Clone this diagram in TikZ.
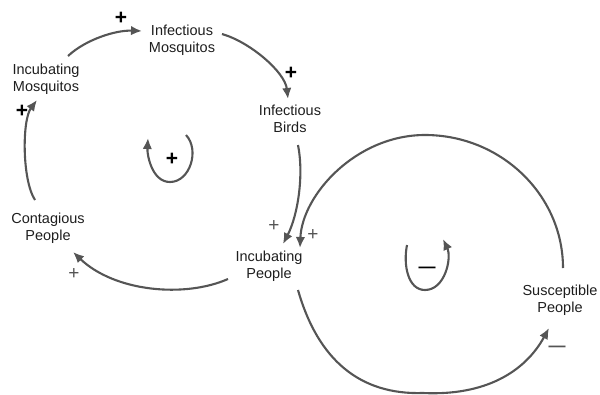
\documentclass[tikz,border=0pt]{standalone}
\usepackage{fontspec}
\setmainfont{Liberation Sans}
\usetikzlibrary{arrows.meta,calc}
\definecolor{arrowgray}{HTML}{555555}
\definecolor{txt}{HTML}{1E1E1E}
\definecolor{signgray}{HTML}{555555}
\begin{document}
\begin{tikzpicture}[x=1pt,y=-1pt,
  var/.style={align=center, font=\fontsize{14.5}{17}\selectfont, text=txt, inner sep=0pt},
  conn/.style={draw=arrowgray, line width=2.1pt, -{Latex[length=11pt,width=9.5pt]}},
  loopmark/.style={draw=arrowgray, line width=2.1pt, -{Latex[length=11pt,width=9.5pt]}},
  pol/.style={font=\fontsize{21}{21}\selectfont\bfseries, text=black, inner sep=0pt},
  polg/.style={font=\fontsize{19}{19}\selectfont, text=signgray, inner sep=0pt},
  neg/.style={font=\fontsize{17}{17}\selectfont\bfseries, inner sep=0pt}]
\useasboundingbox (0,0) rectangle (600,394);

% variables
\node[var] (imq)  at (182,40)  {Infectious\\Mosquitos};
\node[var] (incm) at (46,79)   {Incubating\\Mosquitos};
\node[var] (ib)   at (290,119) {Infectious\\Birds};
\node[var] (cp)   at (48,228)  {Contagious\\People};
\node[var] (ip)   at (269,266) {Incubating\\People};
\node[var] (sp)   at (560,300) {Susceptible\\People};

\coordinate (top4) at (425,135);
\coordinate (bot5) at (423,393);

% connectors
\draw[conn] ($(incm)+(22,-23)$) .. controls (85,40) and (115,30) .. ($(imq)+(-40,-9)$);
\draw[conn] ($(imq)+(40,-6)$) .. controls (250,42) and (285,72) .. ($(ib)+(-2,-20)$);
\draw[conn] ($(ib)+(8,26)$) .. controls (304,175) and (298,215) .. ($(ip)+(14,-22)$);
\draw[conn] ($(sp)+(3,-32)$) .. controls (563,195) and (501,135) .. (top4)
            .. controls (356,135) and (302,195) .. ($(ip)+(31,-18)$);
\draw[conn] ($(ip)+(29,24)$) .. controls (318,360) and (360,395) .. (bot5)
            .. controls (485,396) and (525,372) .. ($(sp)+(-11,28)$);
\draw[conn] ($(ip)+(-41,13)$) .. controls (185,298) and (115,292) .. ($(cp)+(25,24)$);
\draw[conn] ($(cp)+(-13,-28)$) .. controls (22,180) and (22,120) .. ($(incm)+(-9,21)$);

% polarity labels
\node[pol]  (p1) at (121,18)  {+};
\node[pol]  (p2) at (291,73)  {+};
\node[pol]  (p7) at (22,111)  {+};
\node[polg] (p3) at (274,226) {+};
\node[polg] (p4) at (313,235) {+};
\node[polg] (p6) at (74,274)  {+};
\node[neg, text=signgray] (p5) at (557,349) {—};

% loop markers
\draw[loopmark] (186,135) .. controls (200,150) and (190,182) .. (170,182)
                .. controls (152,182) and (147,155) .. (148,138);
\node[pol] (l1) at (172,159) {+};
\draw[loopmark] (407,245) .. controls (403,265) and (408,290) .. (425,290)
                .. controls (445,290) and (452,258) .. (443,239);
\node[neg, text=black] (l2) at (427,270) {—};
\end{tikzpicture}
\end{document}
